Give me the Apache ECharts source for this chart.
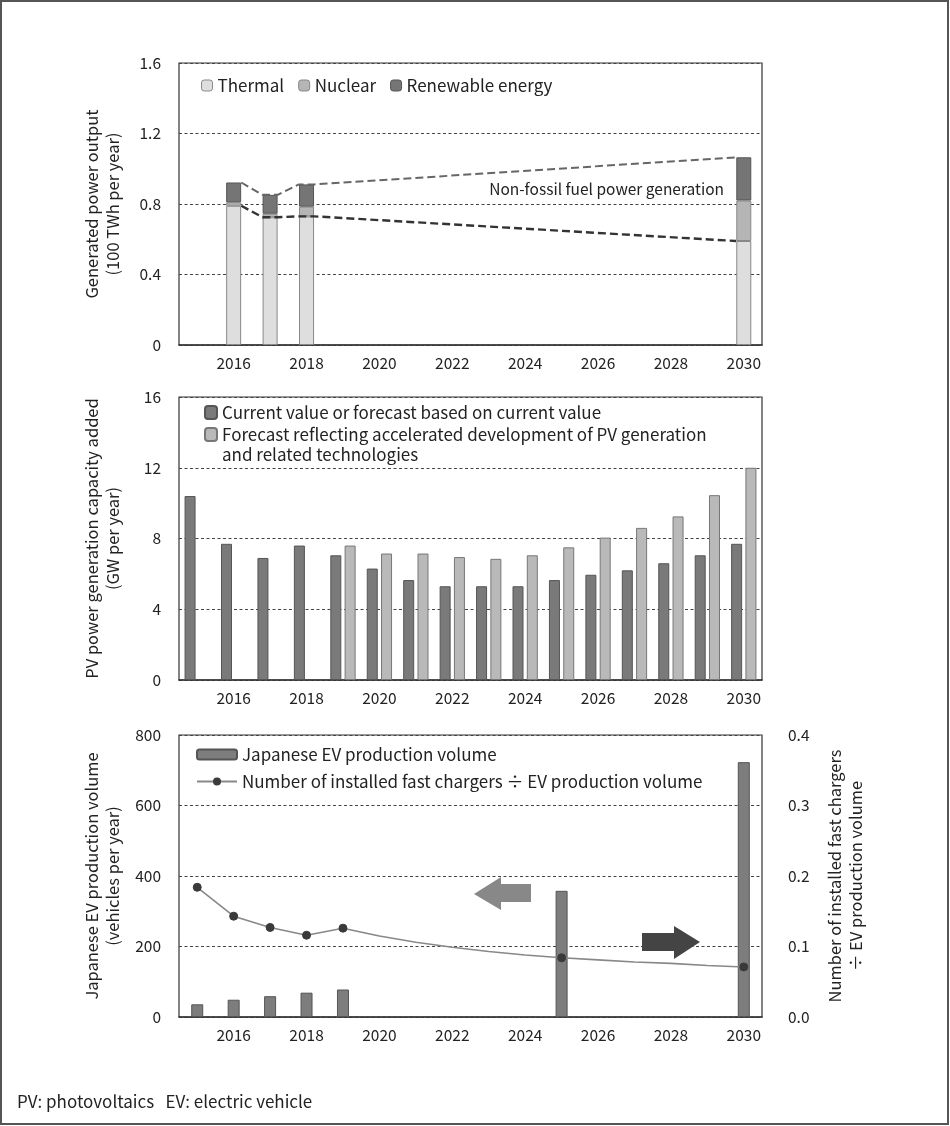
<!DOCTYPE html>
<html>
<head>
<meta charset="utf-8">
<script src="https://cdn.jsdelivr.net/npm/echarts@6/dist/echarts.min.js"></script>
<style>
html,body{margin:0;padding:0;background:#fff;}
#chart{width:950px;height:1126px;}
</style>
</head>
<body>
<div id="chart"></div>
<script>
// ---------- data ----------
var years = ['2015','2016','2017','2018','2019','2020','2021','2022','2023','2024','2025','2026','2027','2028','2029','2030'];

// Panel 1: generated power output (100 TWh per year)
var thermal   = ['-', 0.79, 0.725, 0.73, '-', '-', '-', '-', '-', '-', '-', '-', '-', '-', '-', 0.59];
var nuclear   = ['-', 0.02, 0.02, 0.055, '-', '-', '-', '-', '-', '-', '-', '-', '-', '-', '-', 0.23];
var renewable = ['-', 0.112, 0.107, 0.126, '-', '-', '-', '-', '-', '-', '-', '-', '-', '-', '-', 0.245];

// Panel 2: PV power generation capacity added (GW per year)
var pvCurrent     = [10.4, 7.7, 6.9, 7.6, 7.05, 6.3, 5.65, 5.3, 5.3, 5.3, 5.65, 5.95, 6.2, 6.6, 7.05, 7.7];
var pvAccelerated = ['-', '-', '-', '-', 7.6, 7.15, 7.15, 6.95, 6.85, 7.05, 7.5, 8.05, 8.6, 9.25, 10.45, 12.0];

// Panel 3: EV production and chargers ratio
var evProduction = [36, 49, 59, 69, 78, '-', '-', '-', '-', '-', 358, '-', '-', '-', '-', 723];
var chargerRatio = [0.184, 0.143, 0.127, 0.116, 0.126, 0.115, 0.106, 0.099, 0.093, 0.088, 0.084, 0.081, 0.078, 0.076, 0.073, 0.071];
var ratioMarked  = [true, true, true, true, true, false, false, false, false, false, true, false, false, false, false, true];

// tick values
var yTicks1 = {min: 0, max: 1.6, interval: 0.4};
var yTicks2 = {min: 0, max: 16, interval: 4};
var yTicks3L = {min: 0, max: 800, interval: 200};
var yTicks3R = {min: 0, max: 0.4, interval: 0.1};

// ---------- helpers ----------
var FONT = '"Noto Sans CJK JP", "Noto Sans", sans-serif';
var TXT = '#222';
var gridLeft = 179, gridRight = 188;
var grids = [
  {left: gridLeft, right: gridRight, top: 63, height: 282},
  {left: gridLeft, right: gridRight, top: 397, height: 283},
  {left: gridLeft, right: gridRight, top: 735, height: 282}
];
grids.forEach(function (g) { g.show = true; g.borderColor = '#333'; g.borderWidth = 1.2; g.backgroundColor = 'transparent'; });

function catAxis(gi) {
  return {
    type: 'category', gridIndex: gi, data: years,
    axisLine: {show: true, lineStyle: {color: '#333', width: 1.6}},
    axisTick: {show: false},
    axisLabel: {interval: function (i) { return i % 2 === 1; }, color: TXT, fontSize: 15.5, fontFamily: FONT, margin: 10}
  };
}
function valAxis(gi, t, name, gap, pos) {
  return {
    type: 'value', gridIndex: gi, min: t.min, max: t.max, interval: t.interval, position: pos || 'left',
    name: name, nameLocation: 'middle', nameGap: gap, nameRotate: 90,
    nameTextStyle: {color: TXT, fontSize: 16.5, fontFamily: FONT, lineHeight: 21, align: 'center'},
    axisLine: {show: false}, axisTick: {show: false},
    axisLabel: {color: TXT, fontSize: 15.5, fontFamily: FONT, margin: 18},
    splitLine: {show: true, lineStyle: {color: '#444', type: [3, 2.5], width: 1}}
  };
}

// hidden value axis overlaying panel 1 category axis (index space)
var overlayX = {type: 'value', gridIndex: 0, min: -0.5, max: years.length - 0.5, show: false};

// dashed connector lines derived from bar data
var halfW = 0.21;
var upperPts = [], lowerPts = [];
var idx = [];
thermal.forEach(function (v, i) { if (v !== '-') idx.push(i); });
idx.forEach(function (i, k) {
  var tot = thermal[i] + nuclear[i] + renewable[i];
  if (k > 0) { upperPts.push([i - halfW, tot]); lowerPts.push([i - halfW, thermal[i]]); }
  if (k < idx.length - 1) { upperPts.push([i + halfW, tot]); lowerPts.push([i + halfW, thermal[i]]); }
});

var ratioData = chargerRatio.map(function (v, i) {
  return ratioMarked[i] ? {value: v} : {value: v, symbolSize: 0, symbol: 'none'};
});

var series = [
  {name: 'Thermal', type: 'bar', stack: 'p', xAxisIndex: 0, yAxisIndex: 0, data: thermal, barWidth: 15,
   itemStyle: {color: '#dedede', borderColor: '#888', borderWidth: 1}},
  {name: 'Nuclear', type: 'bar', stack: 'p', xAxisIndex: 0, yAxisIndex: 0, data: nuclear, barWidth: 15,
   itemStyle: {color: '#b5b5b5', borderColor: '#888', borderWidth: 1}},
  {name: 'Renewable energy', type: 'bar', stack: 'p', xAxisIndex: 0, yAxisIndex: 0, data: renewable, barWidth: 15,
   itemStyle: {color: '#757575', borderColor: '#555', borderWidth: 1}},
  {name: 'upper', type: 'line', xAxisIndex: 4, yAxisIndex: 0, data: upperPts, symbol: 'none', silent: true,
   lineStyle: {color: '#666', width: 2, type: [8, 4]}, z: 5},
  {name: 'lower', type: 'line', xAxisIndex: 4, yAxisIndex: 0, data: lowerPts, symbol: 'none', silent: true,
   lineStyle: {color: '#333', width: 2.4, type: [8, 4]}, z: 5},

  {name: 'Current value or forecast based on current value', type: 'bar', xAxisIndex: 1, yAxisIndex: 1, data: pvCurrent,
   barWidth: 11, barGap: '30%', itemStyle: {color: '#7a7a7a', borderColor: '#555', borderWidth: 1}},
  {name: 'Forecast reflecting accelerated development of PV generation', type: 'bar', xAxisIndex: 1, yAxisIndex: 1, data: pvAccelerated,
   barWidth: 11, barGap: '30%', itemStyle: {color: '#b9b9b9', borderColor: '#777', borderWidth: 1}},

  {name: 'Japanese EV production volume', type: 'bar', xAxisIndex: 2, yAxisIndex: 2, data: evProduction,
   barWidth: 12, itemStyle: {color: '#7d7d7d', borderColor: '#555', borderWidth: 1}},
  {name: 'Number of installed fast chargers ÷ EV production volume', type: 'line', xAxisIndex: 3, yAxisIndex: 3,
   data: ratioData, symbol: 'circle', symbolSize: 8, showAllSymbol: true,
   lineStyle: {color: '#888', width: 1.6}, itemStyle: {color: '#3a3a3a', borderColor: '#3a3a3a'}, z: 4}
];

var legendText = {color: TXT, fontSize: 17, fontFamily: FONT};

var option = {
  backgroundColor: '#fff',
  animation: false,
  grid: grids,
  xAxis: [catAxis(0), catAxis(1), catAxis(2),
          Object.assign(catAxis(2), {show: false}),
          overlayX],
  yAxis: [
    valAxis(0, yTicks1, 'Generated power output\n(100 TWh per year)', 56),
    valAxis(1, yTicks2, 'PV power generation capacity added\n(GW per year)', 56),
    valAxis(2, yTicks3L, 'Japanese EV production volume\n(vehicles per year)', 56),
    Object.assign(valAxis(2, yTicks3R, 'Number of installed fast chargers\n÷ EV production volume', 62, 'right'), {
      splitLine: {show: false},
      axisLabel: {color: TXT, fontSize: 15.5, fontFamily: FONT, margin: 26, formatter: function (v) { return v.toFixed(1); }}
    })
  ],
  legend: [
    {data: ['Thermal', 'Nuclear', 'Renewable energy'], left: 196, top: 72, orient: 'horizontal',
     itemWidth: 11, itemHeight: 11, itemGap: 14, textStyle: legendText, selectedMode: false,
     itemStyle: {borderWidth: 1}},
    {data: ['Current value or forecast based on current value', 'Forecast reflecting accelerated development of PV generation'],
     left: 199, top: 399, orient: 'vertical', itemWidth: 12, itemHeight: 13, itemGap: 5, textStyle: legendText, selectedMode: false},
    {data: ['Japanese EV production volume', 'Number of installed fast chargers ÷ EV production volume'],
     left: 191, top: 741, orient: 'vertical', itemWidth: 40, itemHeight: 10, itemGap: 10, textStyle: legendText, selectedMode: false}
  ],
  series: series,
  graphic: [
    {type: 'rect', shape: {x: 1, y: 1, width: 947, height: 1123}, style: {fill: 'none', stroke: '#555', lineWidth: 2}, silent: true},
    {type: 'text', left: 17, top: 1093, style: {text: 'PV: photovoltaics   EV: electric vehicle', fill: TXT, font: '17px ' + FONT}},
    {type: 'text', right: 950 - 724, top: 181, style: {text: 'Non-fossil fuel power generation', fill: TXT, font: '15.5px ' + FONT, textAlign: 'right'}},
    {type: 'text', left: 222, top: 446, style: {text: 'and related technologies', fill: TXT, font: '17px ' + FONT}},
    {type: 'polygon', shape: {points: [[474, 894], [501, 877], [501, 884], [531, 884], [531, 902], [501, 902], [501, 910]]},
     style: {fill: '#888'}, silent: true},
    {type: 'polygon', shape: {points: [[700, 942], [674, 926], [674, 933], [642, 933], [642, 951], [674, 951], [674, 959]]},
     style: {fill: '#444'}, silent: true}
  ]
};

var chart = echarts.init(document.getElementById('chart'), null, {renderer: 'canvas'});
chart.setOption(option);
</script>
</body>
</html>
